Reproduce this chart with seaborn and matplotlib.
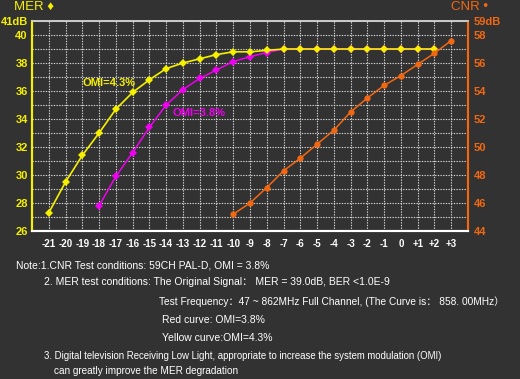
import pandas as pd
import matplotlib.pyplot as plt
import seaborn as sns

sns.set_style("dark")
plt.rcParams['font.family'] = ['Liberation Sans', 'Noto Sans CJK SC', 'DejaVu Sans']

# data
cnr_x = [-21, -20, -19, -18, -17, -16, -15, -14, -13, -12, -11, -10, -9, -8, -7,
         -6, -5, -4, -3, -2, -1, 0, 1, 2, 3]
tick_labels = ['-21', '-20', '-19', '-18', '-17', '-16', '-15', '-14', '-13', '-12',
               '-11', '-10', '-9', '-8', '-7', '-6', '-5', '-4', '-3', '-2', '-1',
               '0', '+1', '+2', '+3']

yellow_x = list(range(-21, 3))
yellow_mer = [27.3, 29.5, 31.4, 33.0, 34.7, 35.9, 36.8, 37.6, 38.0, 38.3, 38.6, 38.8,
              38.8, 38.9, 39.0, 39.0, 39.0, 39.0, 39.0, 39.0, 39.0, 39.0, 39.0, 39.0]

magenta_x = list(range(-18, 3))
magenta_mer = [27.8, 29.9, 31.6, 33.4, 35.0, 36.1, 36.9, 37.5, 38.1, 38.45, 38.75,
               39.0, 39.0, 39.0, 39.0, 39.0, 39.0, 39.0, 39.0, 39.0, 39.0]

orange_x = list(range(-10, 4))
orange_cnr = [45.2, 46.0, 47.1, 48.3, 49.2, 50.2, 51.2, 52.5, 53.5, 54.4, 55.1,
              55.9, 56.7, 57.6]

bg = '#323232'
yellow = '#f5f000'
magenta = '#f000f0'
orange = '#f26812'

yellow_df = pd.DataFrame({'x': yellow_x, 'mer': yellow_mer})
magenta_df = pd.DataFrame({'x': magenta_x, 'mer': magenta_mer})
orange_df = pd.DataFrame({'x': orange_x, 'cnr': orange_cnr})

fig = plt.figure(figsize=(5.2, 3.79), dpi=100, facecolor=bg)
ax = fig.add_axes([32 / 520, 1 - 231 / 379, 436 / 520, 210 / 379])
ax.set_facecolor(bg)

sns.lineplot(data=magenta_df, x='x', y='mer', ax=ax, color=magenta, lw=1.1,
             marker='D', markersize=4, markeredgewidth=0, zorder=3)
sns.lineplot(data=yellow_df, x='x', y='mer', ax=ax, color=yellow, lw=1.2,
             marker='D', markersize=4, markeredgewidth=0, zorder=4)

ax.set_xlim(-22, 4)
ax.set_ylim(26, 41)
ax.set_xticks(cnr_x)
ax.set_xticklabels(tick_labels)
ax.set_yticks([26, 28, 30, 32, 34, 36, 38, 40, 41])
ax.set_yticklabels(['26', '28', '30', '32', '34', '36', '38', '40', '41dB'])
ax.set_yticks(range(26, 42), minor=True)
ax.set_xlabel('')
ax.set_ylabel('')
ax.grid(True, which='both', color='#d8d8d8', ls=(0, (1.2, 1.2)), lw=0.8)
ax.set_axisbelow(True)
ax.tick_params(axis='x', length=0, pad=6, labelsize=7, colors='white')
ax.tick_params(axis='y', which='both', length=0, pad=3, labelsize=8, colors=yellow)
for lab in ax.get_xticklabels() + ax.get_yticklabels():
    lab.set_fontweight('bold')

ax2 = ax.twinx()
sns.lineplot(data=orange_df, x='x', y='cnr', ax=ax2, color=orange, lw=1.1,
             marker='o', markersize=4.5, markeredgewidth=0)
ax2.set_ylim(44, 59)
ax2.set_yticks([44, 46, 48, 50, 52, 54, 56, 58, 59])
ax2.set_yticklabels(['44', '46', '48', '50', '52', '54', '56', '58', '59dB'])
ax2.set_ylabel('')
ax2.tick_params(axis='y', length=0, pad=4, labelsize=8, colors=orange)
for lab in ax2.get_yticklabels():
    lab.set_fontweight('bold')

for a in (ax, ax2):
    a.spines['left'].set_color(yellow)
    a.spines['left'].set_linewidth(1.5)
    a.spines['right'].set_color(orange)
    a.spines['right'].set_linewidth(1.5)
    a.spines['bottom'].set_color('white')
    a.spines['bottom'].set_linewidth(1.5)
    a.spines['top'].set_color('#cccccc')
    a.spines['top'].set_linewidth(1.2)

ax.text(-19.0, 36.6, 'OMI=4.3%', color=yellow, fontsize=8, fontweight='bold', va='center')
ax.text(-13.6, 34.45, 'OMI=3.8%', color=magenta, fontsize=8, fontweight='bold', va='center')

fig.text(14 / 520, 1 - 7 / 379, 'MER \u2666', color=yellow, fontsize=9.5, va='center')
fig.text(451 / 520, 1 - 7 / 379, 'CNR \u2022', color=orange, fontsize=9.5, va='center')

notes = [
    (16, 265, 7.5, 'Note:1.CNR Test conditions: 59CH PAL-D, OMI = 3.8%'),
    (44, 282, 7.5, '2. MER test conditions: The Original Signal\uff1a MER = 39.0dB, BER <1.0E-9'),
    (159, 302, 7.3, 'Test Frequency\uff1a47 ~ 862MHz Full Channel, (The Curve is\uff1a 858. 00MHz\uff09'),
    (162, 320, 7.5, 'Red curve: OMI=3.8%'),
    (162, 338, 7.5, 'Yellow curve:OMI=4.3%'),
    (44, 356, 6.9, '3. Digital television Receiving Low Light, appropriate to increase the system modulation (OMI)'),
    (54, 371, 7.2, 'can greatly improve the MER degradation'),
]
for x, y, size, s in notes:
    fig.text(x / 520, 1 - y / 379, s, color='white', fontsize=size, va='center')

fig.savefig('out.png', dpi=100, facecolor=bg)
